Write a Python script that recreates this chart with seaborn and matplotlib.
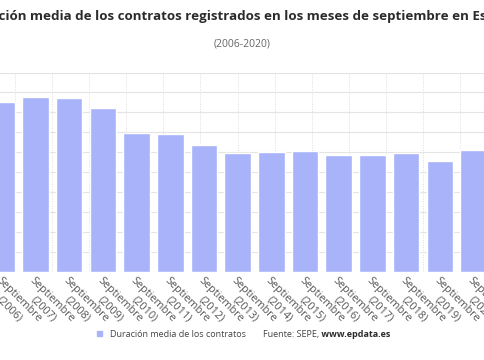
import numpy as np
import pandas as pd
import matplotlib.pyplot as plt
import seaborn as sns
from matplotlib.patches import Rectangle

# Duración media de los contratos registrados en septiembre (días)
years = [2006, 2007, 2008, 2009, 2010, 2011, 2012, 2013, 2014, 2015, 2016, 2017, 2018, 2019, 2020]
values = [85.1, 87.6, 87.0, 82.1, 69.8, 69.1, 63.6, 59.7, 60.1, 60.4, 58.5, 58.4, 59.5, 55.4, 61.1]
labels = ["Septiembre\n(%d)" % y for y in years]

bar_color = "#a9b3f9"

sns.set_theme(style="white")
plt.rcParams["font.family"] = ["Open Sans", "DejaVu Sans"]

df = pd.DataFrame({"periodo": labels, "duracion": values})

fig = plt.figure(figsize=(4.85, 3.6), dpi=100)
# the reference is cropped: the axes run past both figure edges
ax = fig.add_axes([-0.0311, 0.2458, 1.0422, 0.5528])

sns.barplot(data=df, x="periodo", y="duracion", color=bar_color, saturation=1,
            width=0.79, ax=ax)

ax.set_xlim(-0.5, len(years) - 0.5)
ax.set_ylim(0, 100)
ax.set_yticks(np.arange(0, 101, 10))
ax.set_yticklabels([])
ax.tick_params(axis="y", length=0)
ax.set_xlabel("")
ax.set_ylabel("")

# horizontal grid + dotted background vertical grid
ax.grid(axis="y", color="#e4e4e4", linewidth=0.8)
ax.set_xticks(np.arange(0.393, 14.5, 1.1009), minor=True)
ax.grid(axis="x", which="minor", color="#dcdcdc", linewidth=0.7, linestyle=(0, (1, 1.5)))
ax.set_axisbelow(True)
for s in ax.spines.values():
    s.set_visible(False)

ax.set_xticks(range(len(labels)))
ax.set_xticklabels(labels, rotation=-45, ha="left", va="top", rotation_mode="anchor",
                   multialignment="center", fontsize=7.8, color="#555555")
ax.tick_params(axis="x", which="both", length=0, pad=3)

fig.text(0.5, 0.953, "Duración media de los contratos registrados en los meses de septiembre en España",
         ha="center", va="center", fontsize=9.6, fontweight="bold", color="#2b2b2b")
fig.text(0.5, 0.878, "(2006-2020)", ha="center", va="center", fontsize=7.5, color="#666666")

# legend and source line
fig.patches.append(Rectangle((97 / 485, 0.0655), 5 / 485, 5 / 360, transform=fig.transFigure,
                             color=bar_color))
fig.text(110 / 485, 0.072, "Duración media de los contratos", ha="left", va="center",
         fontsize=6.5, color="#444444")
src = fig.text(263 / 485, 0.072, "Fuente: SEPE,", ha="left", va="center", fontsize=6.5,
               color="#444444")
ax.annotate(" www.epdata.es", xy=(1, 0.5), xycoords=src, ha="left", va="center",
            fontsize=6.5, fontweight="bold", color="#2b2b2b", annotation_clip=False)

fig.savefig("out.png", dpi=100)
